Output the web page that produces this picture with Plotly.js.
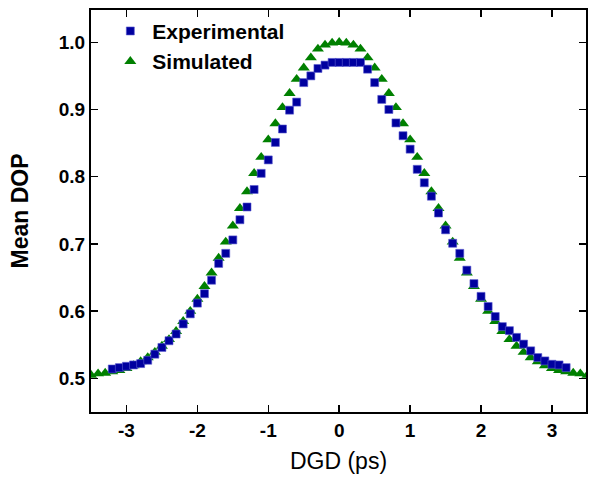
<!DOCTYPE html>
<html>
<head>
<meta charset="utf-8">
<script src="https://cdn.plot.ly/plotly-3.0.1.min.js"></script>
<style>html,body{margin:0;padding:0;background:#fff;}#chart{width:591px;height:479px;}</style>
</head>
<body>
<div id="chart"></div>
<script>
// Simulated: DGD (ps) and mean DOP
var simDGD = [-3.5,-3.4,-3.3,-3.2,-3.1,-3.0,-2.9,-2.8,-2.7,-2.6,-2.5,-2.4,-2.3,-2.2,-2.1,-2.0,-1.9,-1.8,-1.7,-1.6,-1.5,-1.4,-1.3,-1.2,-1.1,-1.0,-0.9,-0.8,-0.7,-0.6,-0.5,-0.4,-0.3,-0.2,-0.1,0.0,0.1,0.2,0.3,0.4,0.5,0.6,0.7,0.8,0.9,1.0,1.1,1.2,1.3,1.4,1.5,1.6,1.7,1.8,1.9,2.0,2.1,2.2,2.3,2.4,2.5,2.6,2.7,2.8,2.9,3.0,3.1,3.2,3.3,3.4,3.5];
var simDOP = [0.505,0.507,0.508,0.510,0.512,0.515,0.519,0.525,0.531,0.539,0.548,0.558,0.570,0.585,0.600,0.618,0.637,0.657,0.679,0.703,0.727,0.753,0.778,0.805,0.829,0.855,0.879,0.903,0.924,0.945,0.962,0.977,0.990,0.996,0.999,1.000,0.999,0.996,0.990,0.977,0.962,0.945,0.924,0.903,0.879,0.855,0.829,0.805,0.778,0.753,0.727,0.703,0.679,0.657,0.637,0.618,0.600,0.585,0.570,0.558,0.548,0.539,0.531,0.525,0.519,0.515,0.512,0.510,0.508,0.507,0.505];

// Experimental: DGD (ps) and mean DOP
var expDGD = [-3.2,-3.1,-3.0,-2.9,-2.8,-2.7,-2.6,-2.5,-2.4,-2.3,-2.2,-2.1,-2.0,-1.9,-1.8,-1.7,-1.6,-1.5,-1.4,-1.3,-1.2,-1.1,-1.0,-0.9,-0.8,-0.7,-0.6,-0.5,-0.4,-0.3,-0.2,-0.1,0.0,0.1,0.2,0.3,0.4,0.5,0.6,0.7,0.8,0.9,1.0,1.1,1.2,1.3,1.4,1.5,1.6,1.7,1.8,1.9,2.0,2.1,2.2,2.3,2.4,2.5,2.6,2.7,2.8,2.9,3.0,3.1,3.2];
var expDOP = [0.514,0.516,0.518,0.520,0.522,0.527,0.536,0.546,0.556,0.566,0.581,0.596,0.612,0.626,0.646,0.671,0.686,0.706,0.736,0.755,0.781,0.805,0.825,0.851,0.871,0.899,0.911,0.940,0.950,0.961,0.966,0.970,0.970,0.970,0.970,0.970,0.960,0.940,0.915,0.900,0.880,0.861,0.841,0.811,0.791,0.771,0.746,0.721,0.701,0.686,0.661,0.641,0.622,0.607,0.592,0.577,0.571,0.561,0.551,0.541,0.531,0.526,0.521,0.520,0.516];

var seriesNames = ['Experimental', 'Simulated'];
var xTickVals = [-3,-2,-1,0,1,2,3];
var yTickVals = [0.5,0.6,0.7,0.8,0.9,1.0];

var font = 'Liberation Sans, Arial, sans-serif';

var traces = [
  {
    x: simDGD, y: simDOP, name: seriesNames[1], type: 'scatter', mode: 'markers',
    legendrank: 2,
    marker: {symbol: 'triangle-up', size: 10.5, color: '#008000', line: {width: 0}}
  },
  {
    x: expDGD, y: expDOP, name: seriesNames[0], type: 'scatter', mode: 'markers',
    legendrank: 1,
    marker: {symbol: 'square', size: 8, color: '#00009F', line: {width: 0.6, color: '#5a5ad0'}}
  }
];

var layout = {
  width: 591, height: 479,
  margin: {l: 91, r: 5, t: 10, b: 67},
  paper_bgcolor: '#fff', plot_bgcolor: '#fff',
  showlegend: true,
  legend: {
    x: 0.035, y: 0.998, xanchor: 'left', yanchor: 'top',
    bgcolor: 'rgba(0,0,0,0)',
    font: {family: font, size: 21, color: '#000', weight: 'bold'},
    itemwidth: 34,
    tracegroupgap: 0
  },
  xaxis: {
    range: [-3.5, 3.48],
    tickvals: xTickVals,
    ticktext: xTickVals.map(String),
    ticks: 'inside', ticklen: 7, tickwidth: 1.5, tickcolor: '#000',
    showline: true, linecolor: '#000', linewidth: 2, mirror: 'ticks',
    showgrid: false, zeroline: false,
    tickfont: {family: font, size: 19, color: '#000', weight: 'bold'},
    title: {text: 'DGD (ps)', font: {family: font, size: 23, color: '#000'}, standoff: 13}
  },
  yaxis: {
    range: [0.45, 1.048],
    tickvals: yTickVals,
    ticktext: yTickVals.map(function(v){return v.toFixed(1);}),
    ticks: 'inside', ticklen: 7, tickwidth: 1.5, tickcolor: '#000',
    showline: true, linecolor: '#000', linewidth: 2, mirror: 'ticks',
    showgrid: false, zeroline: false,
    tickfont: {family: font, size: 19, color: '#000', weight: 'bold'},
    title: {text: 'Mean DOP', font: {family: font, size: 23, color: '#000', weight: 'bold'}, standoff: 24}
  }
};

Plotly.newPlot('chart', traces, layout, {displayModeBar: false, staticPlot: true});
</script>
</body>
</html>
